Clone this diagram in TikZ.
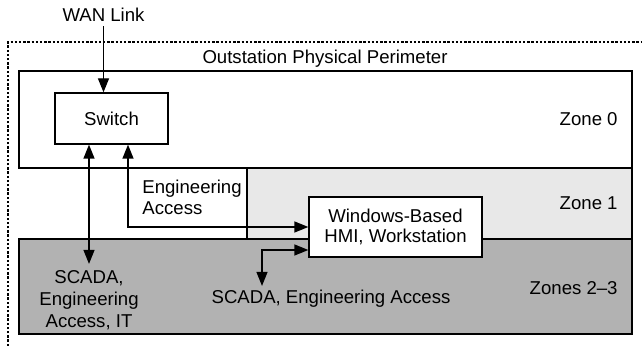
\documentclass[tikz,border=0pt]{standalone}
\usepackage{fontspec}
\setmainfont{Liberation Sans}
\usetikzlibrary{arrows.meta,calc}
\definecolor{zoneone}{gray}{0.91}
\definecolor{zonetwo}{gray}{0.70}
\tikzset{
 every node/.style={font=\fontsize{9.3}{10.5}\selectfont},
 box/.style={draw, fill=white, line width=0.65pt, inner sep=0pt},
 lbl/.style={inner sep=0pt, align=center},
 conn/.style={line width=0.65pt, -{Triangle[length=7pt,width=5.5pt]}},
 biconn/.style={line width=0.65pt, {Triangle[length=7pt,width=5.5pt]}-{Triangle[length=7pt,width=5.5pt]}},
 zoneline/.style={line width=0.65pt},
 perimline/.style={dash pattern=on 1.2pt off 0.9pt, line width=0.6pt}
}
\begin{document}
\begin{tikzpicture}[x=0.5pt,y=-0.5pt]
\useasboundingbox (0,0) rectangle (642,346);
\draw[perimline] (8,346) -- (8,42) -- (642,42);
\draw[zoneline] (19,71) rectangle (632,168);
\draw[zoneline, fill=zoneone] (247,168) rectangle (632,239);
\draw[zoneline, fill=zonetwo] (19,239) rectangle (632,334);

\node[box, minimum width=56.5pt, minimum height=25.5pt] (switch) at (111.5,118.5) {Switch};
\node[box, minimum width=86.5pt, minimum height=30pt, align=center, font=\fontsize{9.3}{10}\selectfont] (hmi) at (395.5,227) {Windows-Based\\HMI, Workstation};
\node[lbl] (wan) at (103.5,15) {WAN Link};
\node[lbl] (perim) at (325,59) {Outstation Physical Perimeter};
\node[lbl, anchor=east] (z0) at (618,119) {Zone 0};
\node[lbl, anchor=east] (z1) at (618,203) {Zone 1};
\node[lbl, anchor=east] (z23) at (618,288) {Zones 2--3};
\node[lbl, align=left, anchor=west] (eng) at (142,197) {Engineering\\Access};
\node[lbl, font=\fontsize{9.3}{11}\selectfont] (scada1) at (89,300) {SCADA,\\Engineering\\Access, IT};
\node[lbl] (scada2) at (331,299) {SCADA, Engineering Access};

\coordinate (s1) at ([xshift=-11.25pt]switch.south);
\coordinate (s2) at ([xshift=8.25pt]switch.south);
\coordinate (h3) at ([yshift=-11.5pt]hmi.west);
\coordinate (t3) at ([xshift=-34.5pt,yshift=2pt]scada2.north);

\draw[conn] ([yshift=-2pt]wan.south) -- (wan.south |- switch.north);
\draw[biconn] (s1) -- ([yshift=3pt]scada1.north);
\draw[biconn] (s2) |- (hmi.west);
\draw[biconn] (h3) -| (t3);
\end{tikzpicture}
\end{document}
